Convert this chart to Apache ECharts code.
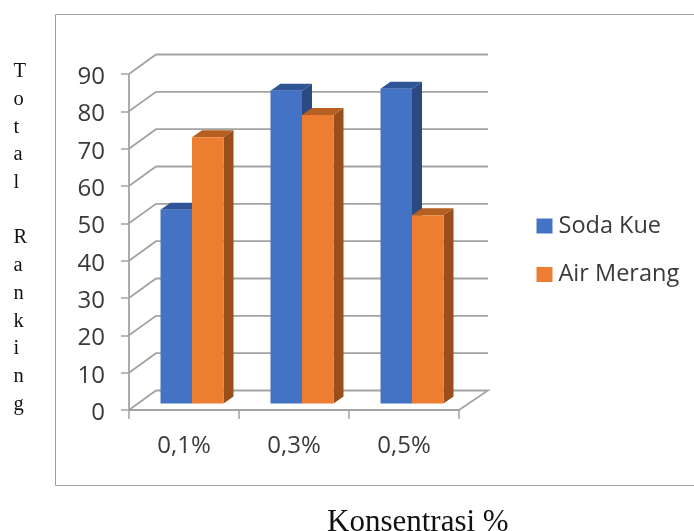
<!DOCTYPE html>
<html>
<head>
<meta charset="utf-8">
<style>html,body{margin:0;padding:0;background:#fff}#c{width:694px;height:531px}</style>
<script src="https://cdn.jsdelivr.net/npm/echarts@6/dist/echarts.min.js"></script>
</head>
<body>
<div id="c"></div>
<script>
const categories = ['0,1%', '0,3%', '0,5%'];
const sodaKue = [51.9, 83.8, 84.3];
const airMerang = [71.3, 77.3, 50.4];
const valueTicks = [0, 10, 20, 30, 40, 50, 60, 70, 80, 90];
const yTitle = 'T\no\nt\na\nl\n\nR\na\nn\nk\ni\nn\ng';
const xTitle = 'Konsentrasi %';

const WALL = [27, -19.5];   // perspective offset of back wall
const WALL_EXTRA = 2;       // back wall runs slightly wider than the front plane
const BASE = [8, -6.5];     // offset of bar front from the front plane
const DEPTH = [10, -7];     // bar depth
const BAR = 31.5;
const GRID = '#a3a3a3';
const INK = '#3a3a3a';

function wallItem(params, api) {
  const v = api.value(0);
  const band = api.size([1, 0])[0];
  const c = api.coord([0, v]);
  const l = c[0] - band / 2, r = l + band * categories.length, y = c[1];
  const pts = [[l, y], [l + WALL[0], y + WALL[1]], [r + WALL[0] + WALL_EXTRA, y + WALL[1]]];
  if (v === 0) pts.push([r, y]);
  return {
    type: 'polyline',
    shape: { points: pts },
    style: { stroke: GRID, lineWidth: 1.8, fill: null },
    silent: true
  };
}

function barItem(side, top, front, offset) {
  return function (params, api) {
    const i = api.value(0), v = api.value(1);
    const c0 = api.coord([i, 0]), c1 = api.coord([i, v]);
    const x0 = c0[0] + BASE[0] + offset * BAR, x1 = x0 + BAR;
    const yb = c0[1] + BASE[1], yt = c1[1] + BASE[1];
    const dx = DEPTH[0], dy = DEPTH[1];
    return {
      type: 'group',
      children: [
        { type: 'polygon', shape: { points: [[x1, yb], [x1 + dx, yb + dy], [x1 + dx, yt + dy], [x1, yt]] }, style: { fill: side } },
        { type: 'polygon', shape: { points: [[x0, yt], [x1, yt], [x1 + dx, yt + dy], [x0 + dx, yt + dy]] }, style: { fill: top } },
        { type: 'rect', shape: { x: x0, y: yt, width: BAR, height: yb - yt }, style: { fill: front } }
      ]
    };
  };
}

const chart = echarts.init(document.getElementById('c'), null, { renderer: 'canvas' });
chart.setOption({
  animation: false,
  backgroundColor: '#fff',
  textStyle: { fontFamily: '"Open Sans", "Noto Sans", sans-serif' },
  graphic: [{
    type: 'rect', silent: true, z: -1,
    shape: { x: 55.5, y: 14.5, width: 700, height: 471 },
    style: { fill: '#fff', stroke: '#a0a0a0', lineWidth: 1 }
  }],
  title: [
    { text: yTitle, left: 8.5, top: 53,
      textStyle: { fontFamily: '"Liberation Serif", serif', fontSize: 20.5, fontWeight: 'normal', color: '#111', lineHeight: 27.7 } },
    { text: xTitle, left: 322, top: 502,
      textStyle: { fontFamily: '"Liberation Serif", serif', fontSize: 31, fontWeight: 'normal', color: '#111', lineHeight: 32 } }
  ],
  legend: {
    orient: 'vertical', left: 536.5, top: 214, itemGap: 24.5, padding: 0,
    itemWidth: 16, itemHeight: 15, icon: 'rect',
    data: ['Soda Kue', 'Air Merang'],
    textStyle: { fontSize: 23.5, color: INK, padding: [0, 0, 0, 1] }
  },
  grid: { left: 129, right: 235, top: 74, bottom: 121, containLabel: false },
  xAxis: {
    type: 'category', data: categories,
    axisLine: { lineStyle: { color: GRID, width: 1.8 } },
    axisTick: { show: true, length: 9, lineStyle: { color: GRID, width: 1.5 } },
    axisLabel: { fontSize: 24, color: INK, margin: 24 },
    splitLine: { show: false }
  },
  yAxis: {
    type: 'value', min: 0, max: 90, interval: 10,
    axisLine: { show: true, lineStyle: { color: GRID, width: 1.8 } },
    axisTick: { show: true, length: 8, lineStyle: { color: GRID, width: 1.5 } },
    axisLabel: {
      fontSize: 24, color: INK, margin: 24,
      formatter: '{v|{value}}',
      rich: { v: { fontSize: 24, color: INK, padding: [6, 0, 0, 0] } }
    },
    splitLine: { show: false }
  },
  series: [
    { name: 'wall', type: 'custom', renderItem: wallItem, data: valueTicks.map(v => [v]),
      encode: { y: 0 }, z: 1, silent: true, clip: false },
    { name: 'Soda Kue', type: 'custom', itemStyle: { color: '#4472C4' }, z: 2, clip: false,
      renderItem: barItem('#2B4A82', '#2F5597', '#4472C4', -1),
      data: sodaKue.map((v, i) => [i, v]), encode: { x: 0, y: 1 } },
    { name: 'Air Merang', type: 'custom', itemStyle: { color: '#ED7D31' }, z: 3, clip: false,
      renderItem: barItem('#994E1B', '#B55F20', '#ED7D31', 0),
      data: airMerang.map((v, i) => [i, v]), encode: { x: 0, y: 1 } }
  ]
});
</script>
</body>
</html>
